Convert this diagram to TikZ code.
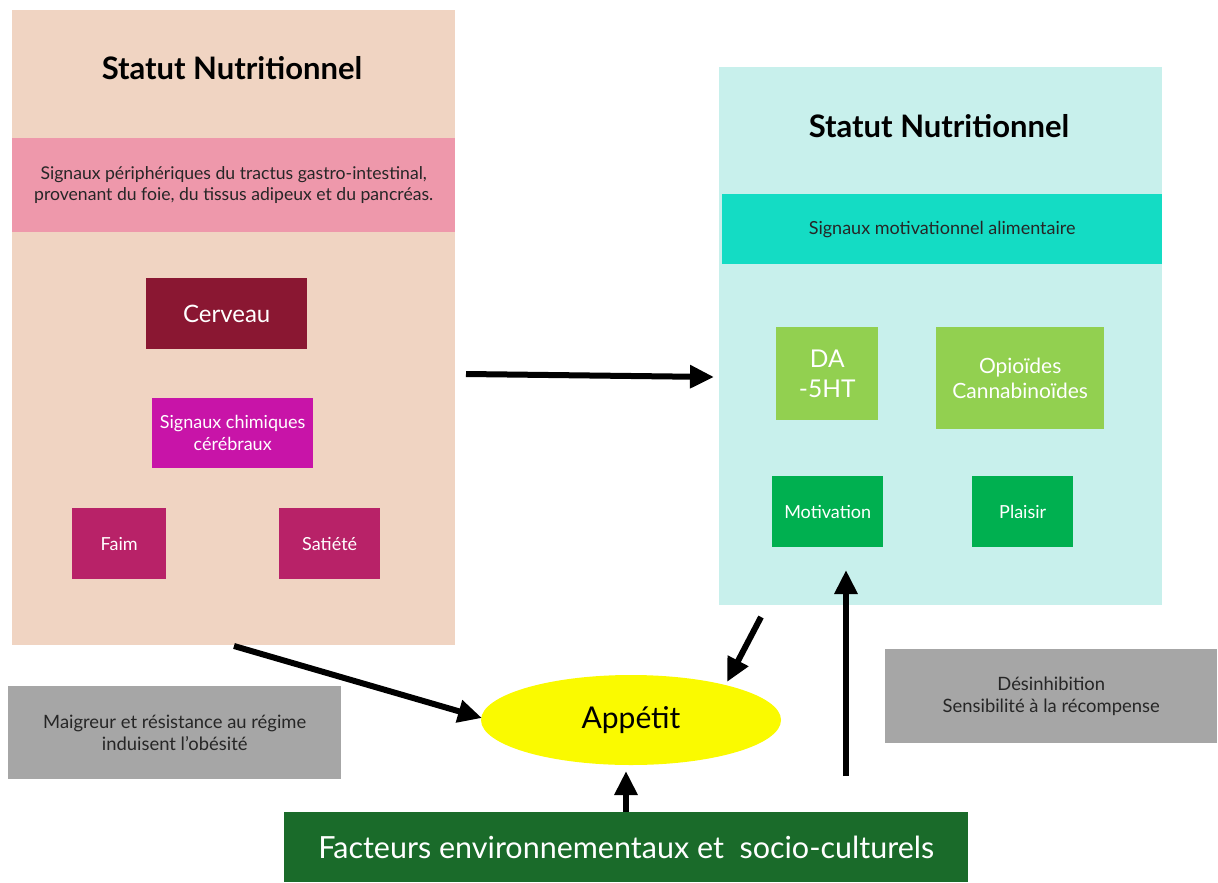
\documentclass[tikz,border=0pt]{standalone}
\usepackage{fontspec}
\setmainfont{Lato}
\usetikzlibrary{arrows.meta,shapes.geometric}
\definecolor{peach}{HTML}{F0D4C2}
\definecolor{pinkband}{HTML}{EE98AB}
\definecolor{maroon}{HTML}{8A1732}
\definecolor{magent}{HTML}{C814A8}
\definecolor{berry}{HTML}{B82268}
\definecolor{lightcyan}{HTML}{C8F0EC}
\definecolor{tealband}{HTML}{14DCC4}
\definecolor{lgreen}{HTML}{92D050}
\definecolor{mgreen}{HTML}{00B050}
\definecolor{dgreen}{HTML}{1A6B2A}
\definecolor{greybox}{HTML}{A6A6A6}
\definecolor{yel}{HTML}{FAFA00}
\tikzset{
  box/.style={anchor=north west, inner sep=0pt, align=center, text=white},
  darktext/.style={text=black!85},
  bigarrow/.style={line width=6pt, -{Triangle[length=24pt,width=22pt]}},
}
\newcommand{\fs}[1]{\fontsize{#1pt}{\the\dimexpr #1pt*6/5\relax}\selectfont}
\begin{document}
\begin{tikzpicture}[x=1pt,y=-1pt]
\useasboundingbox (0,0) rectangle (1218,883);
% left panel
\node[box, fill=peach, minimum width=443pt, minimum height=635pt] (left) at (12,10) {};
\node[text=black, font=\bfseries\fs{31}] (ltitle) at (232,68) {Statut Nutritionnel};
\node[box, darktext, fill=pinkband, minimum width=443pt, minimum height=94pt, font=\fs{17.6}] (band1) at (12,138)
  {Signaux périphériques du tractus gastro-intestinal,\\provenant du foie, du tissus adipeux et du pancréas.};
\node[box, fill=maroon, minimum width=161pt, minimum height=71pt, font=\fs{24}] (cerveau) at (146,278) {Cerveau};
\node[box, fill=magent, minimum width=161pt, minimum height=70pt, font=\fs{18}] (chim) at (152,398) {Signaux chimiques\\cérébraux};
\node[box, fill=berry, minimum width=94pt, minimum height=71pt, font=\fs{18}] (faim) at (72,508) {Faim};
\node[box, fill=berry, minimum width=101pt, minimum height=71pt, font=\fs{18}] (satiete) at (279,508) {Satiété};
% right panel
\node[box, fill=lightcyan, minimum width=443pt, minimum height=538pt] (right) at (719,67) {};
\node[text=black, font=\bfseries\fs{31}] (rtitle) at (939,126) {Statut Nutritionnel};
\node[box, darktext, fill=tealband, minimum width=440pt, minimum height=70pt, font=\fs{18}] (band2) at (722,194) {Signaux motivationnel alimentaire};
\node[box, fill=lgreen, minimum width=102pt, minimum height=93pt, font=\fs{24.5}] (da) at (776,327) {DA\\-5HT};
\node[box, fill=lgreen, minimum width=168pt, minimum height=102pt, font=\fs{21}] (opio) at (936,327) {Opioïdes\\Cannabinoïdes};
\node[box, fill=mgreen, minimum width=111pt, minimum height=71pt, font=\fs{18}] (motiv) at (772,476) {Motivation};
\node[box, fill=mgreen, minimum width=101pt, minimum height=71pt, font=\fs{18}] (plaisir) at (972,476) {Plaisir};
% appetit
\node[ellipse, fill=yel, minimum width=300pt, minimum height=90pt, inner sep=0pt, font=\fs{30}, text=black] (app) at (631,720) {Appétit};
% grey boxes
\node[box, darktext, fill=greybox, minimum width=333pt, minimum height=93pt, font=\fs{18.4}] (grey1) at (8,686)
  {Maigreur et résistance au régime\\induisent l’obésité};
\node[box, darktext, fill=greybox, minimum width=332pt, minimum height=94pt, font=\fs{18.4}] (grey2) at (885,649)
  {Désinhibition\\Sensibilité à la récompense};
% bottom
\node[box, fill=dgreen, minimum width=684pt, minimum height=70pt, font=\fs{30.5}] (env) at (284,812)
  {Facteurs environnementaux et\ \ socio-culturels};
% arrow anchor coordinates
\coordinate (a1s) at (466,374);
\coordinate (a1e) at (714,377);
\coordinate (a2s) at (234,646);
\coordinate (a2e) at (482,718);
\coordinate (a3s) at (761,617);
\coordinate (a3e) at (727,682);
\coordinate (a4s) at (626,812);
\coordinate (a4e) at (626,771);
\coordinate (a5s) at (846,776);
\coordinate (a5e) at (846,570);
\draw[bigarrow] (a1s) -- (a1e);
\draw[bigarrow] (a2s) -- (a2e);
\draw[bigarrow] (a3s) -- (a3e);
\draw[bigarrow] (a4s) -- (a4e);
\draw[bigarrow] (a5s) -- (a5e);
\end{tikzpicture}
\end{document}
